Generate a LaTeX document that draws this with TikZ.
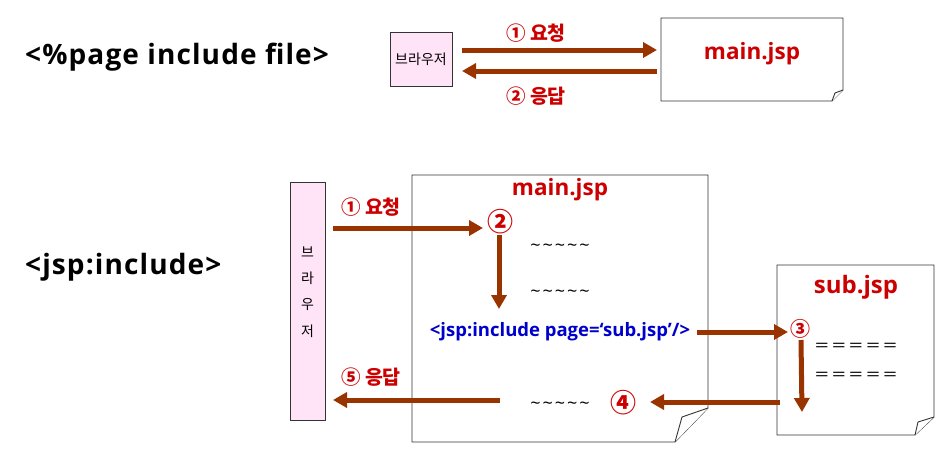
\documentclass[tikz,border=0pt]{standalone}
\usepackage{fontspec}
\setmainfont{Open Sans}
\newfontfamily\kr{Noto Sans CJK KR}
\newfontfamily\headfont[LetterSpace=4]{Open Sans}
\usetikzlibrary{arrows.meta}
\definecolor{arrbrown}{HTML}{993300}
\definecolor{tred}{HTML}{CC0000}
\definecolor{tblue}{HTML}{0000CC}
\definecolor{bpink}{HTML}{FFE4F8}
\definecolor{edgegray}{HTML}{333333}
\newcommand{\tl}{\textasciitilde\hspace{2pt}}
\newcommand{\eqc}{\scalebox{1.45}[1]{=}}
\newcommand{\eqs}{\eqc\hspace{3pt}}
\begin{document}
\begin{tikzpicture}[x=1pt,y=-1pt,
  arr/.style={draw=arrbrown, line width=5pt, -{Triangle[length=14pt,width=15pt]}},
  browser/.style={draw=edgegray, fill=bpink, line width=0.8pt, inner sep=0pt},
  doc/.style={draw=edgegray, fill=white, line width=0.9pt, line join=miter},
  heading/.style={font=\headfont\fontsize{28}{32}\selectfont\bfseries, text=black, inner sep=0pt, anchor=base west},
  lbl/.style={font=\kr\fontsize{19.5}{22}\selectfont\bfseries, text=tred},
  title/.style={font=\fontsize{22.5}{26}\selectfont\bfseries, text=tred},
  num/.style={font=\kr\fontsize{26}{28}\selectfont\bfseries, text=tred, inner sep=0pt},
  filler/.style={font=\fontsize{18}{20}\selectfont, text=black, inner sep=0pt}]
\useasboundingbox (0,0) rectangle (951,471);

% headings
\node[heading] (h1) at (25,64) {<\%page include file>};
\node[heading] (h2) at (25,274) {<jsp:include>};

% ---------- top diagram ----------
\node[browser, minimum width=62pt, minimum height=54pt, font=\kr\fontsize{14}{16}\selectfont] (b1) at (421,59) {브라우저};
\draw[doc] (661,18) -- (843,18) -- (843,90) -- (832,101) -- (661,101) -- cycle;
\draw[doc] (843,90) -- (835,93) -- (832,101);
\node[title] (m1) at (752,54) {main.jsp};
\coordinate (a1s) at (462,50);
\coordinate (a1e) at (657,50);
\coordinate (a2s) at (657,71);
\coordinate (a2e) at (462,71);
\draw[arr] (a1s) -- (a1e);
\draw[arr] (a2s) -- (a2e);
\node[lbl] (l1) at (536,33) {① 요청};
\node[lbl] (l2) at (536,96) {② 응답};

% ---------- bottom diagram ----------
\node[browser, minimum width=35pt, minimum height=238pt] (b2) at (307.5,301) {};
\node[font=\kr\fontsize{14}{26.3}\selectfont, align=center, inner sep=0pt] (b2t) at (307.5,292) {브\\라\\우\\저};

\draw[doc] (412,175) -- (708,175) -- (708,408) -- (675,442) -- (412,442) -- cycle;
\draw[doc] (708,408) -- (682,417) -- (675,442);
\node[title] (m2) at (560,190) {main.jsp};

\draw[doc] (777,265) -- (934,265) -- (934,417) -- (915,435) -- (777,435) -- cycle;
\draw[doc] (934,417) -- (918,422) -- (915,435);
\node[title, font=\fontsize{24}{28}\selectfont\bfseries] (s2) at (856,287) {sub.jsp};

% fillers
\node[filler] (t1) at (560,248) {\tl\tl\tl\tl\textasciitilde};
\node[filler] (t2) at (560,294) {\tl\tl\tl\tl\textasciitilde};
\node[filler] (t3) at (560,406) {\tl\tl\tl\tl\textasciitilde};
\node[font=\fontsize{17}{20}\selectfont, inner sep=0pt] (e1) at (856,347) {\eqs\eqs\eqs\eqs\eqc};
\node[font=\fontsize{17}{20}\selectfont, inner sep=0pt] (e2) at (856,376) {\eqs\eqs\eqs\eqs\eqc};

\node[font=\fontsize{18.5}{21}\selectfont\bfseries, text=tblue, inner sep=0pt] (inc) at (560,332) {<jsp:include page=‘sub.jsp’/>};

% numbers
\node[num] (n2) at (500,222) {②};
\node[num, font=\kr\fontsize{20}{22}\selectfont\bfseries] (n3) at (800,329) {③};
\node[num] (n4) at (623,403) {④};
\node[lbl] (l3) at (371,207) {① 요청};
\node[lbl] (l5) at (371,377) {⑤ 응답};

% arrows
\coordinate (c1s) at (333,228);
\coordinate (c1e) at (483,228);
\coordinate (c2s) at (499,235);
\coordinate (c2e) at (499,309);
\coordinate (c3s) at (697,332);
\coordinate (c3e) at (788,332);
\coordinate (c4s) at (801,340);
\coordinate (c4e) at (802,412);
\coordinate (c5s) at (780,402);
\coordinate (c5e) at (650,402);
\coordinate (c6s) at (500,400);
\coordinate (c6e) at (333,400);
\draw[arr] (c1s) -- (c1e);
\draw[arr] (c2s) -- (c2e);
\draw[arr] (c3s) -- (c3e);
\draw[arr] (c4s) -- (c4e);
\draw[arr] (c5s) -- (c5e);
\draw[arr] (c6s) -- (c6e);
\end{tikzpicture}
\end{document}
